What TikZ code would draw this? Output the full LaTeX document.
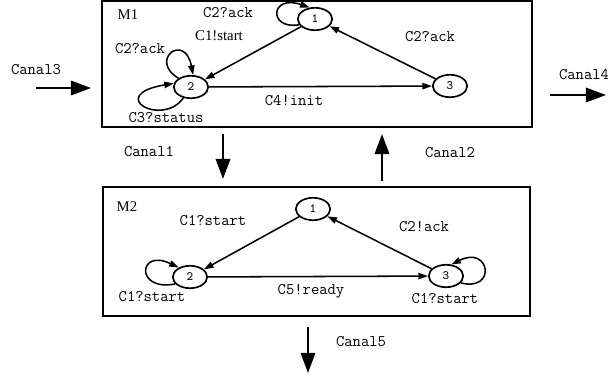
\documentclass[tikz,border=0pt]{standalone}
\usepackage{fontspec}
\setmainfont{Liberation Serif}
\usetikzlibrary{arrows.meta}
\usetikzlibrary{shapes.geometric}

\begin{document}
\begin{tikzpicture}[x=0.025cm, y=-0.025cm,
  state/.style={draw, ellipse, line width=1.2pt, minimum width=0.86cm,
    minimum height=0.56cm, inner sep=0pt, font=\ttfamily\small},
  lab/.style={font=\fontsize{11.5}{12}\selectfont\ttfamily, inner sep=0pt},
  rlab/.style={font=\fontsize{10.5}{12}\selectfont, inner sep=0pt},
  trans/.style={line width=1.1pt, -{Triangle[length=\l, width=\w]}},
  canal/.style={line width=1.4pt, -{Triangle[length=\L, width=\W]}}]
\def\l{2.4mm}
\def\w{1.6mm}
\def\L{5mm}
\def\W{3.6mm}
\useasboundingbox (0,0) rectangle (608,377);
% machine boxes
\draw[line width=1.6pt] (102,1) rectangle (532,127);
\draw[line width=1.6pt] (103,187) rectangle (530,316);
\node[rlab, name=m1] at (128,15) {M1};
\node[rlab, name=m2] at (127,207) {M2};
% states of M1
\node[state, name=a1] at (315,19) {1};
\node[state, name=a2] at (191,87) {2};
\node[state, name=a3] at (450,86) {3};
% states of M2
\node[state, name=b1] at (313,209) {1};
\node[state, name=b2] at (190,277) {2};
\node[state, name=b3] at (446,276) {3};
% transitions of M1
\draw[trans] (a1) -- (a2);
\draw[trans] (a3) -- (a1);
\draw[trans] (a2) -- (a3);
\draw[trans] (a1.200) .. controls (268,30) and (270,-6) .. (a1.115);
\draw[trans] (a2.145) .. controls (148,60) and (185,32) .. (a2.80);
\draw[trans] (a2.235) .. controls (162,128) and (105,95) .. (a2.168);
%\draw[trans] (a2) -- (a1);
% transitions of M2
\draw[trans] (b2.205) .. controls (135,292) and (138,248) .. (b2.140);
\draw[trans] (b3.335) .. controls (497,292) and (490,245) .. (b3.65);
\draw[trans] (b1) -- (b2);
\draw[trans] (b3) -- (b1);
\draw[trans] (b2) -- (b3);
% labels of M1
\node[lab, name=t1] at (228,13) {C2?ack};
\node[rlab, name=t2] at (219,36) {C1!start};
\node[lab, name=t3] at (140,49) {C2?ack};
\node[lab, name=t4] at (166,118) {C3?status};
\node[lab, name=t5] at (294,101) {C4!init};
\node[lab, name=t6] at (430,37) {C2?ack};
% labels of M2
\node[lab, name=u1] at (213,221) {C1?start};
\node[lab, name=u2] at (152,297) {C1?start};
\node[lab, name=u3] at (311,291) {C5!ready};
\node[lab, name=u4] at (424,227) {C2!ack};
\node[lab, name=u5] at (445,299) {C1?start};
% channels
\coordinate (c3s) at (36,88);
\coordinate (c3e) at (91,88);
\coordinate (c4s) at (550,95);
\coordinate (c4e) at (606,95);
\coordinate (c1s) at (223,134);
\coordinate (c1e) at (223,179);
\coordinate (c2s) at (382,181);
\coordinate (c2e) at (382,134);
\coordinate (c5s) at (308,327);
\coordinate (c5e) at (308,373);
\draw[canal] (c3s) -- (c3e);
\draw[canal] (c4s) -- (c4e);
\draw[canal] (c1s) -- (c1e);
\draw[canal] (c2s) -- (c2e);
\draw[canal] (c5s) -- (c5e);
\node[lab, name=k3] at (36,70) {Canal3};
\node[lab, name=k4] at (584,75) {Canal4};
\node[lab, name=k1] at (149,152) {Canal1};
\node[lab, name=k2] at (450,153) {Canal2};
\node[lab, name=k5] at (361,342) {Canal5};
\end{tikzpicture}
\end{document}
